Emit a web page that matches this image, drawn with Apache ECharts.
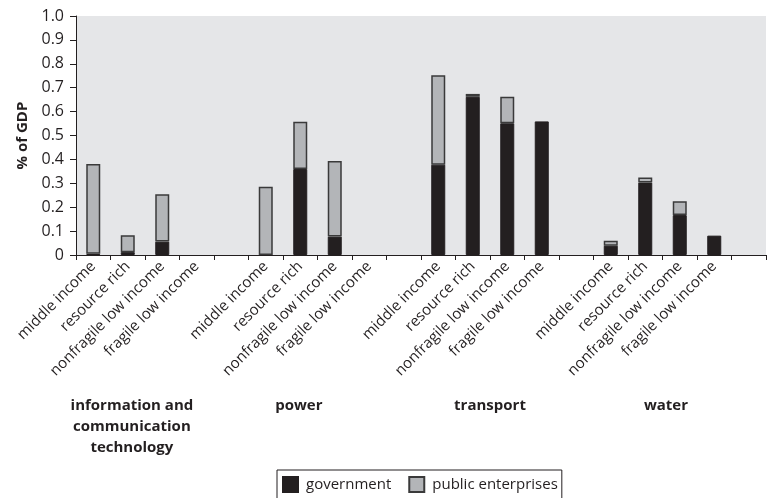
<!DOCTYPE html>
<html>
<head>
<meta charset="utf-8">
<script src="https://cdn.jsdelivr.net/npm/echarts@6/dist/echarts.min.js"></script>
<style>
html,body{margin:0;padding:0;background:#fff;}
#chart{width:771px;height:498px;}
</style>
</head>
<body>
<div id="chart"></div>
<script>
// categories (empty strings are spacer slots between sectors)
var categories = [
  'middle income','resource rich','nonfragile low income','fragile low income','',
  'middle income','resource rich','nonfragile low income','fragile low income','',
  'middle income','resource rich','nonfragile low income','fragile low income','',
  'middle income','resource rich','nonfragile low income','fragile low income',''
];
// null = no bar drawn (value 0 / spacer)
var government = [
  0.005, 0.012, 0.056, null, null,
  null, 0.36, 0.077, null, null,
  0.378, 0.662, 0.551, 0.559, null,
  0.039, 0.303, 0.167, 0.081, null
];
var publicEnterprises = [
  0.376, 0.071, 0.198, null, null,
  0.286, 0.198, 0.316, null, null,
  0.374, 0.012, 0.111, null, null,
  0.021, 0.021, 0.058, null, null
];
var groupLabels = ['information and\ncommunication\ntechnology', 'power', 'transport', 'water'];
var groupAnchors = [1.12, 5.96, 11.5, 16.6];

var FONT = '"Open Sans", "Noto Sans", sans-serif';
var chart = echarts.init(document.getElementById('chart'));
var option = {
  animation: false,
  backgroundColor: '#ffffff',
  textStyle: { fontFamily: FONT },
  grid: { left: 76, right: 5, top: 16, bottom: 243, show: true, backgroundColor: '#e5e6e8', borderWidth: 0 },
  legend: {
    bottom: -4,
    left: 277,
    itemWidth: 15,
    itemHeight: 15,
    itemGap: 17,
    padding: [6, 4, 9, 5],
    borderColor: '#231f20',
    borderWidth: 1,
    textStyle: { fontFamily: FONT, fontSize: 15, color: '#231f20', padding: [0, 0, 0, 3] },
    data: [
      { name: 'government', icon: 'rect' },
      { name: 'public enterprises', icon: 'rect' }
    ]
  },
  xAxis: {
    type: 'category',
    data: categories,
    boundaryGap: true,
    axisLine: { lineStyle: { color: '#231f20', width: 1 } },
    axisTick: { show: true, interval: 0, length: 5, lineStyle: { color: '#231f20' } },
    axisLabel: {
      interval: 0, rotate: 45, margin: 9,
      fontFamily: FONT, fontSize: 15, color: '#231f20'
    },
    splitLine: { show: false }
  },
  yAxis: {
    type: 'value',
    min: 0, max: 1, interval: 0.1,
    name: '% of GDP',
    nameLocation: 'middle',
    nameGap: 44,
    nameTextStyle: { fontFamily: FONT, fontSize: 15, fontWeight: 'bold', color: '#231f20' },
    axisLine: { show: true, lineStyle: { color: '#231f20', width: 1 } },
    axisTick: { show: true, length: 6, inside: false, lineStyle: { color: '#231f20' } },
    axisLabel: {
      fontFamily: FONT, fontSize: 16, color: '#231f20', margin: 12,
      formatter: function (v) {
        var r = Math.round(v * 10) / 10;
        if (r === 0) return '0';
        return r.toFixed(1);
      }
    },
    splitLine: { show: false }
  },
  series: [
    {
      name: 'government', type: 'bar', stack: 'total', barWidth: 14,
      data: government,
      itemStyle: { color: '#231f20', borderColor: '#231f20', borderWidth: 1 }
    },
    {
      name: 'public enterprises', type: 'bar', stack: 'total', barWidth: 14,
      data: publicEnterprises,
      itemStyle: { color: '#b3b5b8', borderColor: '#3a3a3a', borderWidth: 1.5 }
    }
  ]
};
chart.setOption(option);

// sector labels beneath the category labels
var p0 = chart.convertToPixel({ xAxisIndex: 0 }, 0);
var p1 = chart.convertToPixel({ xAxisIndex: 0 }, 1);
var step = p1 - p0;
var graphics = groupLabels.map(function (txt, i) {
  return {
    type: 'text',
    x: p0 + step * groupAnchors[i],
    y: 395,
    style: {
      text: txt,
      fontFamily: FONT,
      fontSize: 15,
      fontWeight: 'bold',
      fill: '#231f20',
      align: 'center',
      verticalAlign: 'top',
      lineHeight: 21
    }
  };
});
chart.setOption({ graphic: graphics });
</script>
</body>
</html>
